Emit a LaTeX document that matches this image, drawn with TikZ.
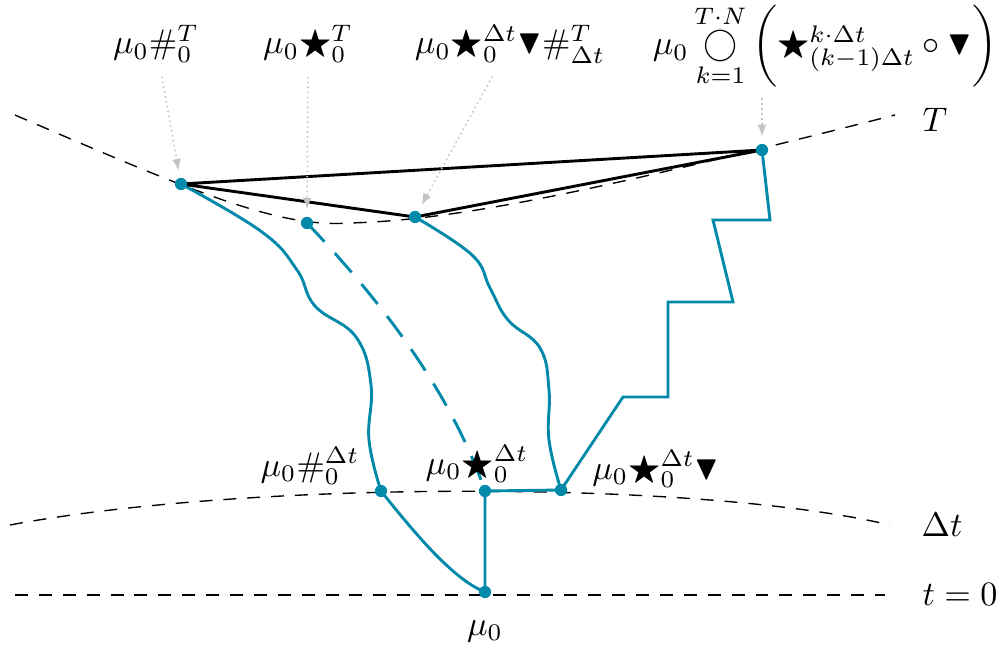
\documentclass[tikz,border=0pt]{standalone}
\usepackage{amssymb}
\usetikzlibrary{arrows.meta}
\definecolor{tosca}{RGB}{0,137,168}
\definecolor{abumuda}{RGB}{195,195,195}

\begin{document}
\begin{tikzpicture}[x=0.0103cm, y=-0.0103cm,
        dot/.style={circle, fill=tosca, inner sep=0pt, minimum size=3.6pt},
        flow/.style={tosca, line width=0.85pt},
        plan/.style={black, line width=0.85pt},
        level/.style={black, line width=0.4pt, dash pattern=on 3.8pt off 3.2pt},
        pointer/.style={abumuda, line width=0.45pt, densely dotted, -{Latex[length=3.4pt, width=2.6pt]}, shorten <=3pt, shorten >=2pt}]
    \useasboundingbox (0,0) rectangle (1004,651);
    \draw[level] (15,595) -- (885,595);
    \draw[level] (10,525) .. controls (250,480) and (700,480) .. (890,525);
    \draw[level] (15,115) .. controls (200,195) and (280,228) .. (350,223) .. controls (460,220) and (600,190) .. (895,115);
    \node at (935,120) {$T$};
    \node at (942,525) {$\Delta t$};
    \node at (960,595) {$t=0$};
    \foreach \n/\x/\y in {A/181/184, B/307/223, C/415/217, D/762/150, E/381/491, F/485/491, G/561/490, M/485/592}
        \coordinate (\n) at (\x,\y);
    \draw[flow] (M) .. controls (455,580) and (420,540) .. (E);
    \draw[flow] plot[smooth, tension=0.7] coordinates {(E) (369,440) (371,385) (356,337) (315,306) (297,270) (262,232) (A)};
    \draw[flow] (M) -- (F) -- (G);
    \draw[flow] plot[smooth, tension=0.7] coordinates {(G) (549,440) (549,390) (540,348) (508,320) (490,288) (472,255) (C)};
    \draw[flow] (G) -- (623,397) -- (668,397) -- (668,302) -- (733,302) -- (713,220) -- (770,220) -- (D);
    \draw[flow, dash pattern=on 7.5pt off 4.5pt] (B) .. controls (380,300) and (450,390) .. (F);
    \draw[plan] (A) -- (D) (A) -- (C) -- (D);
    \foreach \n in {A,B,C,D,E,F,G,M}
        \node[dot] (\n-dot) at (\n) {};
    \foreach \n/\x/\y/\txt in {
        A/156/54/{$\mu_0\#_0^T$},
        B/308/54/{$\mu_0\bigstar_0^T$},
        C/510/54/{$\mu_0\bigstar_0^{\Delta t}\blacktriangledown\#_{\Delta t}^T$},
        E/310/476/{$\mu_0\#_0^{\Delta t}$},
        F/477/474/{$\mu_0\bigstar_0^{\Delta t}$},
        G/656/479/{$\mu_0\bigstar_0^{\Delta t}\blacktriangledown$},
        M/485/635/{$\mu_0$}}
        \node[anchor=base, inner sep=1pt] (l\n) at (\x,\y) {\txt};
    \node[inner sep=0pt] (lD) at (825,46) {$\mu_0\mathop{\bigcirc}\limits_{k=1}^{T\cdot N}\bigg(\bigstar_{(k-1)\Delta t}^{k\cdot\Delta t}\circ\blacktriangledown\bigg)$};
    \draw[pointer] (lA) -- (A-dot);
    \draw[pointer] (lB) -- (B-dot);
    \draw[pointer] (lC) -- (C-dot);
    \draw[pointer] (D-dot |- lD.south) -- (D-dot);
\end{tikzpicture}
\end{document}
